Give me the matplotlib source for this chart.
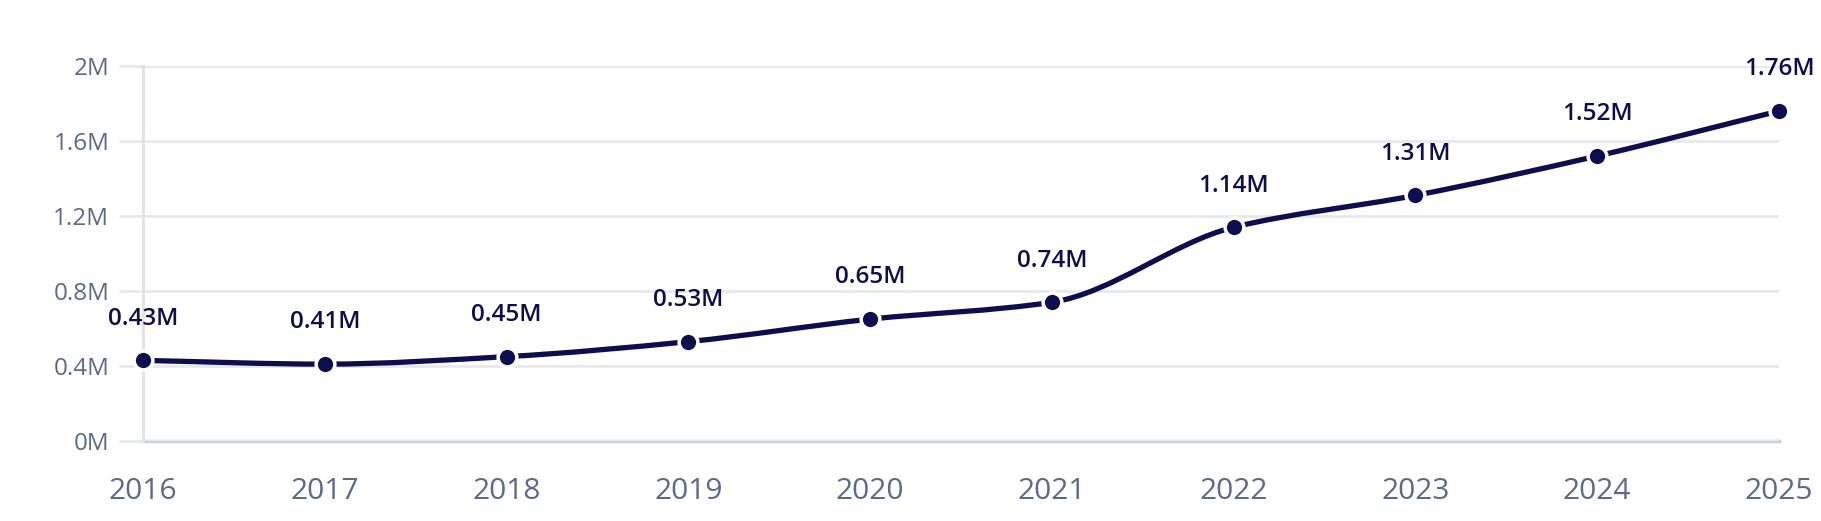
import matplotlib
matplotlib.use("Agg")
import matplotlib.pyplot as plt
import numpy as np
from matplotlib.path import Path
from matplotlib.patches import PathPatch

years = [2016, 2017, 2018, 2019, 2020, 2021, 2022, 2023, 2024, 2025]
values_m = [0.43, 0.41, 0.45, 0.53, 0.65, 0.74, 1.14, 1.31, 1.52, 1.76]
value_labels = ["0.43M", "0.41M", "0.45M", "0.53M", "0.65M", "0.74M",
                "1.14M", "1.31M", "1.52M", "1.76M"]
y_ticks = [0, 0.4, 0.8, 1.2, 1.6, 2.0]
y_tick_labels = ["0M", "0.4M", "0.8M", "1.2M", "1.6M", "2M"]

NAVY = "#0c0e4e"
TICK = "#5b6a86"
GRID = "#e6e9f0"

plt.rcParams["font.family"] = ["Open Sans", "DejaVu Sans"]


def monotone_path(x, y):
    """Monotone cubic (Fritsch-Carlson) curve through the points, as Beziers."""
    x = np.asarray(x, float)
    y = np.asarray(y, float)
    h = np.diff(x)
    d = np.diff(y) / h
    m = np.zeros_like(y)
    m[0], m[-1] = d[0], d[-1]
    for i in range(1, len(x) - 1):
        if d[i - 1] * d[i] <= 0:
            m[i] = 0.0
        else:
            w1 = 2 * h[i] + h[i - 1]
            w2 = h[i] + 2 * h[i - 1]
            m[i] = (w1 + w2) / (w1 / d[i - 1] + w2 / d[i])
    verts = [(x[0], y[0])]
    codes = [Path.MOVETO]
    for i in range(len(x) - 1):
        verts += [(x[i] + h[i] / 3, y[i] + m[i] * h[i] / 3),
                  (x[i + 1] - h[i] / 3, y[i + 1] - m[i + 1] * h[i] / 3),
                  (x[i + 1], y[i + 1])]
        codes += [Path.CURVE4] * 3
    return Path(verts, codes)


fig = plt.figure(figsize=(18.21, 5.21), dpi=100)
ax = fig.add_axes([143 / 1821, 1 - 441 / 521, (1779 - 143) / 1821, 375 / 521])

ax.add_patch(PathPatch(monotone_path(years, values_m), facecolor="none",
                       edgecolor=NAVY, lw=3.8, capstyle="round", zorder=3,
                       clip_on=False))
ax.plot(years, values_m, ls="none", marker="o", ms=13.5, mfc=NAVY,
        mec="white", mew=2.5, zorder=4, clip_on=False)

for x, y, lab in zip(years, values_m, value_labels):
    ax.annotate(lab, (x, y), xytext=(0, 30), textcoords="offset points",
                ha="center", va="center", fontsize=17.5, fontweight="semibold",
                color=NAVY, zorder=5)

ax.set_xlim(years[0], years[-1])
ax.set_ylim(0, 2.0)
ax.set_xticks(years)
ax.set_xticklabels([str(y) for y in years])
ax.set_yticks(y_ticks)
ax.set_yticklabels(y_tick_labels)

ax.grid(axis="y", color=GRID, lw=2, zorder=0)
ax.tick_params(axis="y", length=17.3, width=2, color=GRID, pad=7,
               labelsize=17.5, labelcolor=TICK)
ax.tick_params(axis="x", length=0, pad=26, labelsize=21.5, labelcolor=TICK)

for side in ("top", "right"):
    ax.spines[side].set_visible(False)
ax.spines["left"].set_color("#e2e2e4")
ax.spines["left"].set_linewidth(2)
ax.spines["bottom"].set_color("#cdd0d9")
ax.spines["bottom"].set_linewidth(2.5)
ax.spines["bottom"].set_zorder(1)

fig.savefig("out.png", dpi=100)
